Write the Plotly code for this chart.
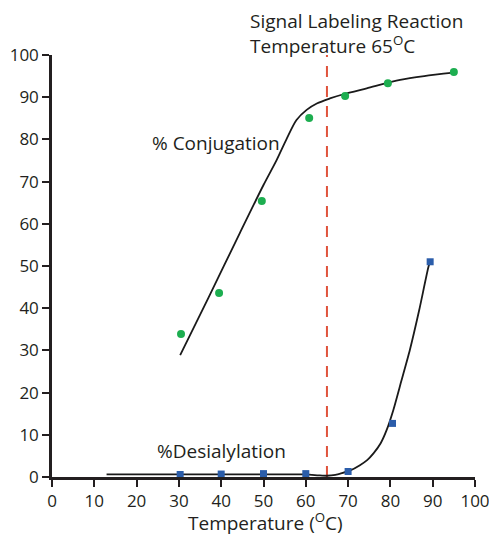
import plotly.graph_objects as go

# Measured data points
conj_temp = [30.5, 39.5, 49.6, 60.8, 69.3, 79.4, 95.0]
conj_pct = [33.9, 43.6, 65.4, 85.1, 90.3, 93.3, 96.0]

desial_temp = [30.3, 40.0, 50.0, 60.0, 70.0, 80.5, 89.4]
desial_pct = [0.6, 0.7, 0.8, 0.8, 1.3, 12.7, 51.0]

# Fitted (hand-drawn) trend curves
conj_fit_temp = [30.3, 37.0, 44.4, 50.0, 53.1, 55.5, 57.8, 60.2, 62.6, 65.7, 68.9, 74.4, 82.3, 88.0, 94.9]
conj_fit_pct = [28.9, 42.5, 57.8, 69.2, 75.1, 80.2, 84.6, 87.0, 88.5, 89.7, 90.7, 92.1, 94.1, 95.0, 95.8]

desial_fit_temp = [12.9, 30.0, 50.0, 60.0, 63.0, 65.0, 67.0, 68.5, 70.4, 72.8, 74.5, 76.0, 77.7, 79.1, 80.7, 82.6, 84.6, 86.8, 89.0, 89.4]
desial_fit_pct = [0.6, 0.6, 0.6, 0.6, 0.4, 0.3, 0.5, 0.9, 1.5, 2.8, 4.0, 5.6, 8.0, 11.1, 15.9, 22.8, 30.1, 39.5, 49.8, 51.0]

REACTION_TEMP = 65
reaction_line_y = [0, 100.5]

x_ticks = list(range(0, 101, 10))
y_ticks = list(range(0, 101, 10))

FONT = "Open Sans"
INK = "#231f20"

fig = go.Figure()

fig.add_trace(go.Scatter(x=[REACTION_TEMP, REACTION_TEMP], y=reaction_line_y, mode="lines",
                         line=dict(color="#E0533C", width=2, dash="11px,9px"),
                         hoverinfo="skip", cliponaxis=False))

fig.add_trace(go.Scatter(x=conj_fit_temp, y=conj_fit_pct, mode="lines",
                         line=dict(color="#1a1a1a", width=1.8, shape="spline", smoothing=0.8),
                         hoverinfo="skip"))
fig.add_trace(go.Scatter(x=desial_fit_temp, y=desial_fit_pct, mode="lines",
                         line=dict(color="#1a1a1a", width=1.8, shape="spline", smoothing=0.6),
                         hoverinfo="skip", cliponaxis=False))

fig.add_trace(go.Scatter(x=conj_temp, y=conj_pct, mode="markers",
                         marker=dict(color="#1DAE50", size=8, symbol="circle"),
                         name="% Conjugation", cliponaxis=False))
fig.add_trace(go.Scatter(x=desial_temp, y=desial_pct, mode="markers",
                         marker=dict(color="#2B5DAA", size=7, symbol="square"),
                         name="%Desialylation", cliponaxis=False))

# page body has an 8px margin, so the figure is offset by 8px; compensate in size/margins
fig.update_layout(
    width=489, height=527,
    margin=dict(l=44, r=22, t=47, b=58),
    paper_bgcolor="white", plot_bgcolor="white",
    showlegend=False,
    font=dict(family=FONT, color=INK),
    xaxis=dict(range=[0, 100], tickvals=x_ticks, ticks="outside", ticklen=7, tickwidth=1.5,
               tickcolor=INK, showline=True, linecolor=INK, linewidth=2.5, automargin=False,
               showgrid=False, zeroline=False, tickfont=dict(size=17, family=FONT)),
    yaxis=dict(range=[0, 100], tickvals=y_ticks, ticks="outside", ticklen=7, tickwidth=1.5,
               tickcolor=INK, showline=True, linecolor=INK, linewidth=2.5, automargin=False,
               showgrid=False, zeroline=False, tickfont=dict(size=17, family=FONT)),
    annotations=[
        dict(text="Signal Labeling Reaction<br>Temperature 65<sup>O</sup>C", xref="paper", yref="paper",
             x=0.463, y=1.115, xanchor="left", yanchor="top", showarrow=False, align="left",
             font=dict(size=19, family=FONT, color=INK)),
        dict(text="% Conjugation", xref="paper", yref="paper", x=(150 - 52) / 423, y=(477 - 143) / 422,
             xanchor="left", yanchor="middle", showarrow=False,
             font=dict(size=19, family=FONT, color=INK)),
        dict(text="%Desialylation", xref="paper", yref="paper", x=(155 - 52) / 423, y=(477 - 451) / 422,
             xanchor="left", yanchor="middle", showarrow=False,
             font=dict(size=19, family=FONT, color=INK)),
        dict(text="Temperature (<sup>O</sup>C)", xref="paper", yref="paper", x=(265 - 52) / 423,
             y=(477 - 522) / 422, xanchor="center", yanchor="middle", showarrow=False,
             font=dict(size=19, family=FONT, color=INK)),
    ],
)

fig.write_html("out.html")
